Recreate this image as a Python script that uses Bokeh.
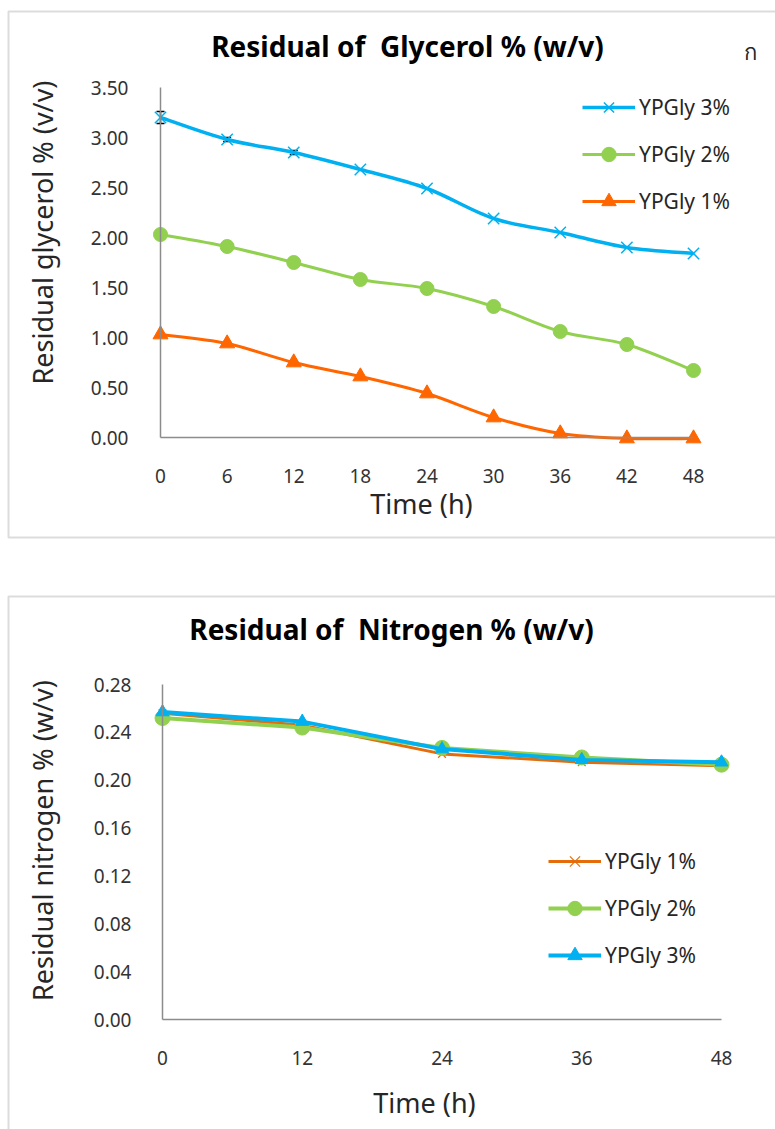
import math

from bokeh.plotting import figure
from bokeh.models import (ColumnDataSource, Legend, LegendItem, Whisker, TeeHead,
                          BoxAnnotation, Label, FixedTicker, Range1d, NumeralTickFormatter)
from bokeh.layouts import column
from bokeh.embed import file_html
from bokeh.resources import INLINE

# ---- glycerol uptake (every 6 h) ----
hours_gly = [0, 6, 12, 18, 24, 30, 36, 42, 48]
gly_3 = [3.20, 2.98, 2.85, 2.68, 2.49, 2.19, 2.05, 1.90, 1.84]
gly_3_err = [0.06, 0.02, 0.02, 0, 0, 0, 0, 0, 0]
gly_2 = [2.03, 1.91, 1.75, 1.58, 1.49, 1.31, 1.06, 0.93, 0.67]
gly_1 = [1.03, 0.94, 0.75, 0.61, 0.44, 0.20, 0.04, -0.01, -0.01]
gly_yticks = [0.0, 0.5, 1.0, 1.5, 2.0, 2.5, 3.0, 3.5]

# ---- nitrogen uptake (every 12 h) ----
hours_nit = [0, 12, 24, 36, 48]
nit_1 = [0.256, 0.246, 0.222, 0.215, 0.212]
nit_2 = [0.252, 0.244, 0.227, 0.219, 0.213]
nit_3 = [0.257, 0.249, 0.226, 0.217, 0.215]
nit_yticks = [0.00, 0.04, 0.08, 0.12, 0.16, 0.20, 0.24, 0.28]

BLUE = "#00B0F0"
GREEN = "#92D050"
ORANGE = "#FF6600"
ORANGE_DK = "#E46C0A"
AXIS_GREY = "#8C8C8C"
FONT = "Noto Sans"
W = 775


class PixelMap:
    """Linear map between canvas pixels and data values for a full-canvas frame."""

    def __init__(self, width, height, xa, xb, ya, yb):
        (self.px0, self.vx0), (px1, vx1) = xa, xb
        (self.py0, self.vy0), (py1, vy1) = ya, yb
        self.sx = (px1 - self.px0) / (vx1 - self.vx0)
        self.sy = (py1 - self.py0) / (vy1 - self.vy0)
        self.width, self.height = width, height

    def x(self, px):
        return self.vx0 + (px - self.px0) / self.sx

    def y(self, py):
        return self.vy0 + (py - self.py0) / self.sy

    def x_range(self):
        return Range1d(self.x(0), self.x(self.width))

    def y_range(self):
        return Range1d(self.y(self.height), self.y(0))


def smooth_segments(xs, ys):
    """Cubic Bezier pieces (Catmull-Rom style) through the measured points."""
    n = len(xs)
    seg = dict(x0=[], y0=[], x1=[], y1=[], cx0=[], cy0=[], cx1=[], cy1=[])
    for i in range(n - 1):
        xp, yp = (xs[i - 1], ys[i - 1]) if i > 0 else (xs[i], ys[i])
        xn, yn = (xs[i + 2], ys[i + 2]) if i + 2 < n else (xs[i + 1], ys[i + 1])
        seg["x0"].append(xs[i]); seg["y0"].append(ys[i])
        seg["x1"].append(xs[i + 1]); seg["y1"].append(ys[i + 1])
        seg["cx0"].append(xs[i] + (xs[i + 1] - xp) / 6)
        seg["cy0"].append(ys[i] + (ys[i + 1] - yp) / 6)
        seg["cx1"].append(xs[i + 1] - (xn - xs[i]) / 6)
        seg["cy1"].append(ys[i + 1] - (yn - ys[i]) / 6)
    return ColumnDataSource(seg)


def make_figure(pm):
    p = figure(width=pm.width, height=pm.height, output_backend="svg",
               toolbar_location=None, x_range=pm.x_range(), y_range=pm.y_range(),
               min_border_left=0, min_border_right=0, min_border_top=0,
               min_border_bottom=0)
    p.background_fill_color = "white"
    p.border_fill_color = "white"
    p.outline_line_color = None
    p.xgrid.grid_line_color = None
    p.ygrid.grid_line_color = None
    return p


def style_axes(p, xticks, yticks, y_standoff, x_standoff):
    p.xaxis.fixed_location = 0
    p.yaxis.fixed_location = 0
    p.xaxis.bounds = (xticks[0], xticks[-1])
    p.yaxis.bounds = (yticks[0], yticks[-1])
    p.xaxis.ticker = FixedTicker(ticks=xticks)
    p.yaxis.ticker = FixedTicker(ticks=yticks)
    p.yaxis.formatter = NumeralTickFormatter(format="0.00")
    for ax in (p.xaxis, p.yaxis):
        ax.axis_line_color = AXIS_GREY
        ax.axis_line_width = 1.5
        ax.major_tick_line_color = None
        ax.minor_tick_line_color = None
        ax.major_tick_in = 0
        ax.major_tick_out = 0
        ax.major_label_text_font = FONT
        ax.major_label_text_font_size = "19px"
        ax.major_label_text_color = "#333333"
    p.yaxis.major_label_standoff = y_standoff
    p.xaxis.major_label_standoff = x_standoff


def add_axis_titles(p, pm, xtitle, xpos, ytitle, ypos):
    common = dict(text_font=FONT, text_font_size="27px", text_color="#262626",
                  text_align="center", text_baseline="middle")
    p.add_layout(Label(x=pm.x(xpos[0]), y=pm.y(xpos[1]), text=xtitle, **common))
    p.add_layout(Label(x=pm.x(ypos[0]), y=pm.y(ypos[1]), text=ytitle,
                       angle=math.pi / 2, **common))


def add_frame_box(p, pm, left, top, right, bottom):
    p.add_layout(BoxAnnotation(left=pm.x(left), right=pm.x(right),
                               top=pm.y(top), bottom=pm.y(bottom),
                               fill_alpha=0, line_color=AXIS_GREY, line_width=2,
                               level="underlay"))


def add_heading(p, pm, text, cx, cy):
    p.add_layout(Label(x=pm.x(cx), y=pm.y(cy), text=text, text_font=FONT,
                       text_font_size="28px", text_font_style="bold",
                       text_color="black", text_align="center",
                       text_baseline="middle"))


def style_legend(items, x, y):
    leg = Legend(items=items, location=(x, y), orientation="vertical")
    leg.glyph_width = 53
    leg.glyph_height = 36
    leg.spacing = 11
    leg.padding = 0
    leg.margin = 0
    leg.label_standoff = 4
    leg.border_line_color = None
    leg.background_fill_alpha = 0
    leg.label_text_font = FONT
    leg.label_text_font_size = "21px"
    leg.label_text_color = "#262626"
    return leg


# ================= glycerol chart =================
pm1 = PixelMap(W, 566, (160, 0), (693, 48), (437, 0), (87, 3.5))
p1 = make_figure(pm1)
add_frame_box(p1, pm1, 8, 11, 820, 537)
style_axes(p1, hours_gly, gly_yticks, 32, 31)
add_axis_titles(p1, pm1, "Time (h)", (421, 503), "Residual glycerol % (v/v)", (42, 232))
add_heading(p1, pm1, "Residual of \u00a0Glycerol % (w/v)", 407, 45)

c3 = p1.bezier(x0="x0", y0="y0", x1="x1", y1="y1", cx0="cx0", cy0="cy0",
               cx1="cx1", cy1="cy1", source=smooth_segments(hours_gly, gly_3),
               line_color=BLUE, line_width=3.5)
c2 = p1.bezier(x0="x0", y0="y0", x1="x1", y1="y1", cx0="cx0", cy0="cy0",
               cx1="cx1", cy1="cy1", source=smooth_segments(hours_gly, gly_2),
               line_color=GREEN, line_width=3)
c1 = p1.bezier(x0="x0", y0="y0", x1="x1", y1="y1", cx0="cx0", cy0="cy0",
               cx1="cx1", cy1="cy1", source=smooth_segments(hours_gly, gly_1),
               line_color=ORANGE, line_width=3)

err_idx = [i for i, e in enumerate(gly_3_err) if e > 0]
err_src = ColumnDataSource(dict(
    x=[hours_gly[i] for i in err_idx],
    upper=[gly_3[i] + gly_3_err[i] for i in err_idx],
    lower=[gly_3[i] - gly_3_err[i] for i in err_idx]))
p1.add_layout(Whisker(base="x", upper="upper", lower="lower", source=err_src,
                      line_color="black", line_width=1.5,
                      upper_head=TeeHead(size=8, line_color="black", line_width=1.5),
                      lower_head=TeeHead(size=8, line_color="black", line_width=1.5)))

m3 = p1.scatter(hours_gly, gly_3, marker="x", size=16, line_color=BLUE, line_width=1.5)
m2 = p1.scatter(hours_gly, gly_2, marker="circle", size=14, fill_color=GREEN,
                line_color=GREEN)
m1 = p1.scatter(hours_gly, gly_1, marker="triangle", size=15, fill_color=ORANGE,
                line_color=ORANGE)

p1.add_layout(style_legend([
    LegendItem(label="YPGly 3%", renderers=[c3, m3]),
    LegendItem(label="YPGly 2%", renderers=[c2, m2]),
    LegendItem(label="YPGly 1%", renderers=[c1, m1]),
], 582, 566 - 219))

p1.add_layout(Label(x=pm1.x(750), y=pm1.y(50), text="ก", text_font=FONT,
                    text_font_size="22px", text_color="#262626",
                    text_align="center", text_baseline="middle"))

# ================= nitrogen chart =================
pm2 = PixelMap(W, 563, (162, 0), (721, 48), (453, 0), (118, 0.28))
p2 = make_figure(pm2)
add_frame_box(p2, pm2, 8, 30, 820, 620)
style_axes(p2, hours_nit, nit_yticks, 31, 31)
add_axis_titles(p2, pm2, "Time (h)", (424, 536), "Residual nitrogen % (w/v)", (42, 274))
add_heading(p2, pm2, "Residual of \u00a0Nitrogen % (w/v)", 391, 62)

l1 = p2.line(hours_nit, nit_1, line_color=ORANGE_DK, line_width=3)
n1 = p2.scatter(hours_nit, nit_1, marker="x", size=11, line_color=ORANGE_DK,
                line_width=1.2)
l2 = p2.line(hours_nit, nit_2, line_color=GREEN, line_width=4)
n2 = p2.scatter(hours_nit, nit_2, marker="circle", size=15, fill_color=GREEN,
                line_color=GREEN)
l3 = p2.line(hours_nit, nit_3, line_color=BLUE, line_width=4)
n3 = p2.scatter(hours_nit, nit_3, marker="triangle", size=13, fill_color=BLUE,
                line_color=BLUE)

p2.add_layout(style_legend([
    LegendItem(label="YPGly 1%", renderers=[l1, n1]),
    LegendItem(label="YPGly 2%", renderers=[l2, n2]),
    LegendItem(label="YPGly 3%", renderers=[l3, n3]),
], 548, 563 - 407))

layout = column(p1, p2, spacing=0)
open("out.html", "w").write(file_html(layout, INLINE))
